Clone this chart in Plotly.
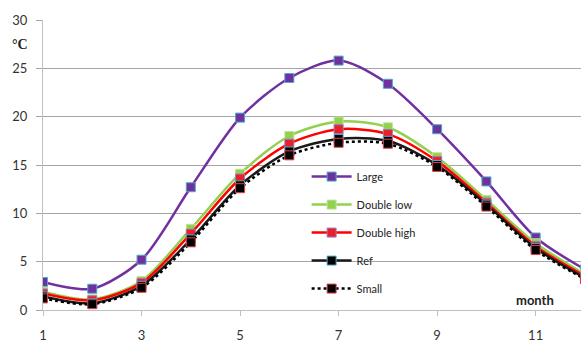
import plotly.graph_objects as go

months = [1, 2, 3, 4, 5, 6, 7, 8, 9, 10, 11, 12]
large = [2.9, 2.2, 5.2, 12.7, 19.9, 24.0, 25.8, 23.4, 18.7, 13.3, 7.5, 4.2]
double_low = [1.9, 1.1, 3.0, 8.4, 14.1, 18.0, 19.5, 18.9, 15.8, 11.4, 6.9, 3.7]
double_high = [1.7, 1.0, 2.8, 7.9, 13.6, 17.2, 18.7, 18.2, 15.4, 11.1, 6.6, 3.5]
ref = [1.4, 0.7, 2.5, 7.3, 12.9, 16.4, 17.7, 17.5, 15.0, 10.9, 6.4, 3.3]
small = [1.2, 0.6, 2.3, 7.0, 12.6, 16.0, 17.3, 17.2, 14.8, 10.7, 6.2, 3.2]

series = [
    ("Large", large, "#7030A0", "#7030A0", "#4BACC6", "solid"),
    ("Double low", double_low, "#92D050", "#92D050", "#C3E19B", "solid"),
    ("Double high", double_high, "#FF0000", "#E8202A", "#9B7BC0", "solid"),
    ("Ref", ref, "#1a1a1a", "#000000", "#4BACC6", "solid"),
    ("Small", small, "#000000", "#000000", "#E0404A", "dot"),
]

fig = go.Figure()
for name, vals, lc, mc, mlc, dash in series:
    fig.add_trace(go.Scatter(
        x=months, y=vals, name=name, mode="lines+markers",
        legendgroup=name,
        line=dict(color=lc, width=2.5, shape="spline", smoothing=0.8, dash=dash),
        marker=dict(symbol="square", size=9, color=mc,
                    line=dict(color=mlc, width=1)),
    ))

fig.update_layout(
    width=581, height=343,
    margin=dict(l=43, r=0, t=20, b=33, autoexpand=False),
    paper_bgcolor="white", plot_bgcolor="white",
    font=dict(family="Lato", size=13, color="#333333"),
    showlegend=True,
    legend=dict(x=0.49, y=0.51, xanchor="left", yanchor="top",
                bgcolor="rgba(0,0,0,0)", font=dict(family="Lato", size=11, color="#222222"),
                tracegroupgap=9, itemwidth=40),
    xaxis=dict(range=[1, 11.92], tickmode="array", tickvals=[1, 3, 5, 7, 9, 11],
               showgrid=False, showline=True, linecolor="#BFBFBF", linewidth=1,
               ticks="outside", ticklen=5, tickcolor="#BFBFBF",
               ticklabelstandoff=8, zeroline=False),
    yaxis=dict(range=[0, 30], tickvals=[0, 5, 10, 15, 20, 25, 30],
               showgrid=True, gridcolor="#A6A6A6", gridwidth=1,
               showline=True, linecolor="#BFBFBF", linewidth=1,
               ticks="outside", ticklen=6, tickcolor="#A6A6A6",
               ticklabelstandoff=6, zeroline=False),
    annotations=[
        dict(text="<b>°C</b>", x=(20 - 43) / 538, y=(310 - 45) / 290,
             xref="paper", yref="paper", showarrow=False,
             xanchor="center", yanchor="middle",
             font=dict(family="Liberation Serif", size=14, color="#222222")),
        dict(text="<b>month</b>", x=0.915, y=0.0, xref="paper", yref="paper",
             showarrow=False, xanchor="center", yanchor="bottom",
             font=dict(family="Lato", size=13, color="#222222")),
    ],
)

fig.write_html("out.html", config={"displayModeBar": False},
               post_script="document.body.style.margin='0';")
